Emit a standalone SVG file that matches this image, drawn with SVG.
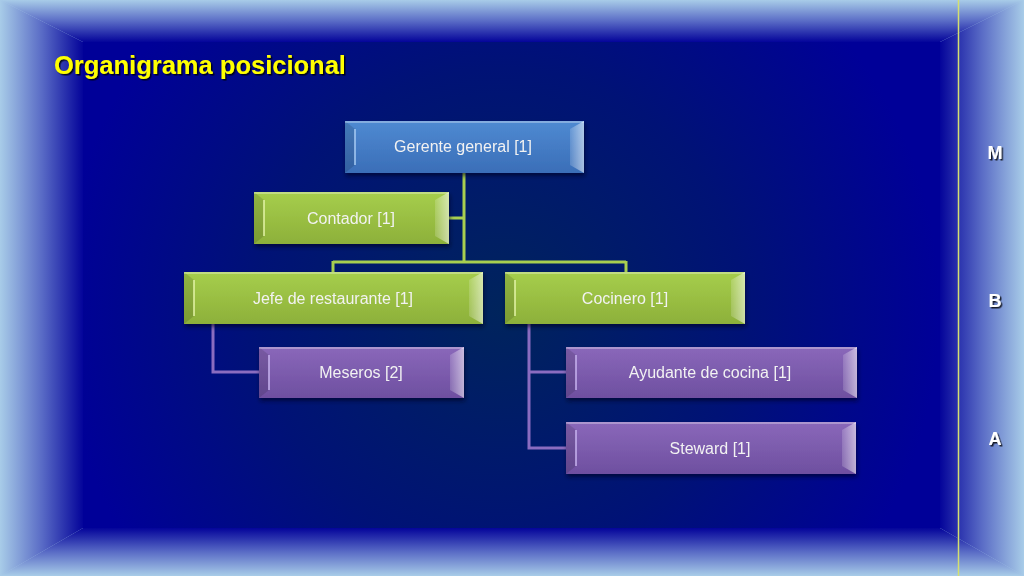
<svg xmlns="http://www.w3.org/2000/svg" width="1024" height="576" viewBox="0 0 1024 576">
<defs>
<linearGradient id="gL" x1="0" y1="0" x2="1" y2="0"><stop offset="0" stop-color="#a8cce8"/><stop offset="0.5" stop-color="#5a6cc6"/><stop offset="1" stop-color="#04049a"/></linearGradient>
<linearGradient id="gR" x1="1" y1="0" x2="0" y2="0"><stop offset="0" stop-color="#a8cce8"/><stop offset="0.5" stop-color="#5a6cc6"/><stop offset="1" stop-color="#04049a"/></linearGradient>
<linearGradient id="gT" x1="0" y1="0" x2="0" y2="1"><stop offset="0" stop-color="#a8cce8"/><stop offset="0.5" stop-color="#5a6cc6"/><stop offset="1" stop-color="#04049a"/></linearGradient>
<linearGradient id="gB" x1="0" y1="1" x2="0" y2="0"><stop offset="0" stop-color="#a8cce8"/><stop offset="0.5" stop-color="#5a6cc6"/><stop offset="1" stop-color="#04049a"/></linearGradient>
<radialGradient id="gC" cx="500" cy="310" r="440" gradientUnits="userSpaceOnUse"><stop offset="0" stop-color="#00245c"/><stop offset="0.55" stop-color="#001276"/><stop offset="1" stop-color="#000098"/></radialGradient>
<linearGradient id="fBlue" x1="0" y1="0" x2="0" y2="1"><stop offset="0" stop-color="#4f8ad2"/><stop offset="1" stop-color="#3a6eb8"/></linearGradient>
<linearGradient id="fGreen" x1="0" y1="0" x2="0" y2="1"><stop offset="0" stop-color="#a6ce4c"/><stop offset="1" stop-color="#8db03a"/></linearGradient>
<linearGradient id="fPurple" x1="0" y1="0" x2="0" y2="1"><stop offset="0" stop-color="#8a68ba"/><stop offset="1" stop-color="#6e4fa0"/></linearGradient>
<linearGradient id="rb" x1="0" y1="0" x2="1" y2="0"><stop offset="0" stop-color="#ffffff" stop-opacity="0.15"/><stop offset="1" stop-color="#ffffff" stop-opacity="0.55"/></linearGradient>
<filter id="sh" x="-10%" y="-20%" width="120%" height="150%"><feDropShadow dx="1" dy="3" stdDeviation="2" flood-color="#000020" flood-opacity="0.6"/></filter>
<filter id="tsh" x="-10%" y="-20%" width="120%" height="150%"><feDropShadow dx="1.5" dy="1.5" stdDeviation="0.6" flood-color="#000000" flood-opacity="0.8"/></filter>
</defs>
<style>
.lbl{font-family:"Liberation Sans",Arial,sans-serif;font-size:16px;fill:#f2f2f2;text-anchor:middle;dominant-baseline:central}
.side{font-family:"Liberation Sans",Arial,sans-serif;font-size:18px;font-weight:bold;fill:#ffffff;text-anchor:middle}
.gc{stroke:#a8cf50;stroke-width:3;fill:none}
.pc{stroke:#8a6cc0;stroke-width:3;fill:none}
.hl{fill:#ffffff;opacity:0.3}
.dk{fill:#000000;opacity:0.12}
.rbv{fill:url(#rb)}
</style>
<!-- background frame -->
<rect x="0" y="0" width="1024" height="576" fill="#a8cce8"/>
<polygon points="0,0 83,42 83,528 0,576" fill="url(#gL)"/>
<polygon points="1024,0 940,42 940,528 1024,576" fill="url(#gR)"/>
<polygon points="0,0 1024,0 940,42 83,42" fill="url(#gT)"/>
<polygon points="0,576 83,528 940,528 1024,576" fill="url(#gB)"/>
<rect x="83" y="42" width="857" height="486" fill="url(#gC)"/>
<line x1="958.5" y1="0" x2="958.5" y2="576" stroke="#d4e070" stroke-width="1.5"/>

<text x="54" y="74" font-family="Liberation Sans,Arial,sans-serif" font-size="25.5" font-weight="bold" fill="#ffff00" filter="url(#tsh)">Organigrama posicional</text>

<g id="levels" filter="url(#tsh)">
<text class="side" x="995" y="159">M</text>
<text class="side" x="995" y="307">B</text>
<text class="side" x="995" y="445">A</text>
</g>

<g id="connectors">
<path class="gc" d="M464,173 V262 M333,262 H626 M333,261 V272 M626,261 V272 M449,218 H464"/>
<path class="pc" d="M213,324 V372 H259"/>
<path class="pc" d="M529,324 V448 H566 M529,372 H566"/>
</g>

<g id="n-gerente" filter="url(#sh)">
<rect x="345" y="121" width="239" height="52" fill="url(#fBlue)"/>
<polygon points="345,121 355,129 355,165 345,173" class="dk"/>
<line x1="355" y1="129" x2="355" y2="165" stroke="#a8ccf4" stroke-width="1.5"/>
<polygon points="584,121 570,129 570,165 584,173" class="rbv"/>
<rect x="345" y="121" width="239" height="2" class="hl"/>
<text class="lbl" x="463" y="146">Gerente general [1]</text>
</g>

<g id="n-contador" filter="url(#sh)">
<rect x="254" y="192" width="195" height="52" fill="url(#fGreen)"/>
<polygon points="254,192 264,200 264,236 254,244" class="dk"/>
<line x1="264" y1="200" x2="264" y2="236" stroke="#e4f4a8" stroke-width="1.5"/>
<polygon points="449,192 435,200 435,236 449,244" class="rbv"/>
<rect x="254" y="192" width="195" height="2" class="hl"/>
<text class="lbl" x="351" y="218">Contador [1]</text>
</g>

<g id="n-jefe" filter="url(#sh)">
<rect x="184" y="272" width="299" height="52" fill="url(#fGreen)"/>
<polygon points="184,272 194,280 194,316 184,324" class="dk"/>
<line x1="194" y1="280" x2="194" y2="316" stroke="#e4f4a8" stroke-width="1.5"/>
<polygon points="483,272 469,280 469,316 483,324" class="rbv"/>
<rect x="184" y="272" width="299" height="2" class="hl"/>
<text class="lbl" x="333" y="298">Jefe de restaurante [1]</text>
</g>

<g id="n-cocinero" filter="url(#sh)">
<rect x="505" y="272" width="240" height="52" fill="url(#fGreen)"/>
<polygon points="505,272 515,280 515,316 505,324" class="dk"/>
<line x1="515" y1="280" x2="515" y2="316" stroke="#e4f4a8" stroke-width="1.5"/>
<polygon points="745,272 731,280 731,316 745,324" class="rbv"/>
<rect x="505" y="272" width="240" height="2" class="hl"/>
<text class="lbl" x="625" y="298">Cocinero [1]</text>
</g>

<g id="n-meseros" filter="url(#sh)">
<rect x="259" y="347" width="205" height="51" fill="url(#fPurple)"/>
<polygon points="259,347 269,355 269,390 259,398" class="dk"/>
<line x1="269" y1="355" x2="269" y2="390" stroke="#c8b4f0" stroke-width="1.5"/>
<polygon points="464,347 450,355 450,390 464,398" class="rbv"/>
<rect x="259" y="347" width="205" height="2" class="hl"/>
<text class="lbl" x="361" y="372">Meseros [2]</text>
</g>

<g id="n-ayudante" filter="url(#sh)">
<rect x="566" y="347" width="291" height="51" fill="url(#fPurple)"/>
<polygon points="566,347 576,355 576,390 566,398" class="dk"/>
<line x1="576" y1="355" x2="576" y2="390" stroke="#c8b4f0" stroke-width="1.5"/>
<polygon points="857,347 843,355 843,390 857,398" class="rbv"/>
<rect x="566" y="347" width="291" height="2" class="hl"/>
<text class="lbl" x="710" y="372">Ayudante de cocina [1]</text>
</g>

<g id="n-steward" filter="url(#sh)">
<rect x="566" y="422" width="290" height="52" fill="url(#fPurple)"/>
<polygon points="566,422 576,430 576,466 566,474" class="dk"/>
<line x1="576" y1="430" x2="576" y2="466" stroke="#c8b4f0" stroke-width="1.5"/>
<polygon points="856,422 842,430 842,466 856,474" class="rbv"/>
<rect x="566" y="422" width="290" height="2" class="hl"/>
<text class="lbl" x="710" y="448">Steward [1]</text>
</g>
</svg>
